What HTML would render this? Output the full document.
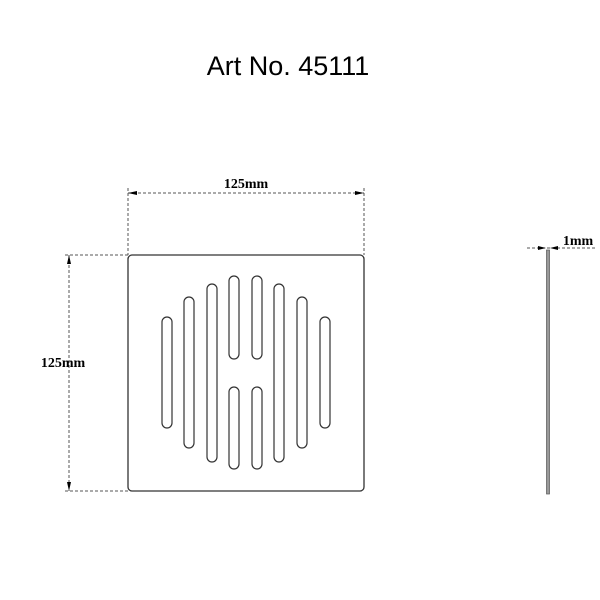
<!DOCTYPE html>
<html><head><meta charset="utf-8"><style>
html,body{margin:0;padding:0;background:#fff;width:600px;height:600px;overflow:hidden}
svg{display:block}
</style></head><body>
<svg width="600" height="600" viewBox="0 0 600 600">
<text x="288" y="75" text-anchor="middle" font-family="'Liberation Sans',sans-serif" font-size="27" fill="#000">Art No. 45111</text>
<g stroke="#555" stroke-width="1" stroke-dasharray="3,2" fill="none">
<line x1="128" y1="188" x2="128" y2="255"/>
<line x1="364" y1="188" x2="364" y2="255"/>
<line x1="128" y1="193" x2="364" y2="193"/>
<line x1="65" y1="255" x2="128" y2="255"/>
<line x1="65" y1="491" x2="128" y2="491"/>
<line x1="69" y1="255" x2="69" y2="491"/>
<line x1="527" y1="248" x2="597" y2="248"/>
</g>
<g fill="#000">
<polygon points="128,193 137,191 137,195"/>
<polygon points="364,193 355,191 355,195"/>
<polygon points="69,255 67,264 71,264"/>
<polygon points="69,491 67,482 71,482"/>
<polygon points="546,248 538,246 538,250"/>
<polygon points="550,248 558,246 558,250"/>
</g>
<g font-family="'Liberation Serif',serif" font-weight="bold" font-size="14" fill="#000">
<text x="246" y="188" text-anchor="middle">125mm</text>
<text x="63" y="367" text-anchor="middle">125mm</text>
<text x="578" y="245" text-anchor="middle">1mm</text>
</g>
<rect x="128" y="255" width="236" height="236" rx="4" fill="none" stroke="#333" stroke-width="1.3"/>
<g fill="none" stroke="#333" stroke-width="1.2">
<rect x="162" y="317" width="10" height="111" rx="5"/>
<rect x="184" y="297" width="10" height="151" rx="5"/>
<rect x="207" y="284" width="10" height="178" rx="5"/>
<rect x="229" y="276" width="10" height="83" rx="5"/>
<rect x="252" y="276" width="10" height="83" rx="5"/>
<rect x="229" y="387" width="10" height="82" rx="5"/>
<rect x="252" y="387" width="10" height="82" rx="5"/>
<rect x="274" y="284" width="10" height="178" rx="5"/>
<rect x="297" y="297" width="10" height="151" rx="5"/>
<rect x="320" y="317" width="10" height="111" rx="5"/>
</g>
<rect x="546.5" y="250" width="3" height="244" fill="#999" stroke="#555" stroke-width="0.7"/>
</svg>
</body></html>
